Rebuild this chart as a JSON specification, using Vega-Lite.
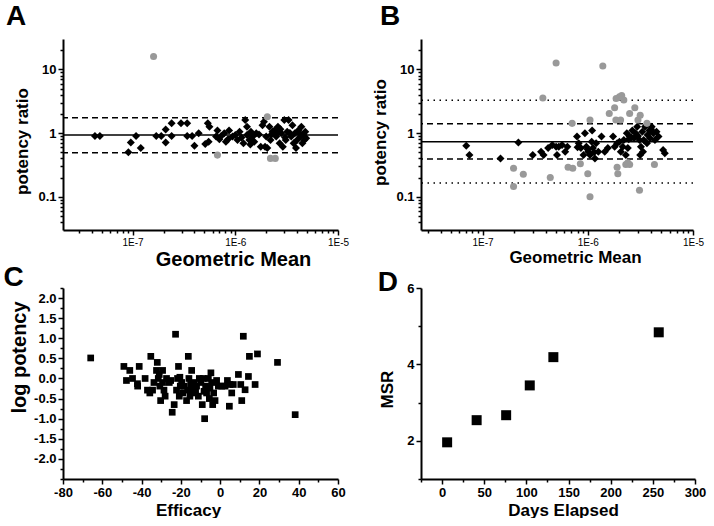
{
  "$schema": "https://vega.github.io/schema/vega-lite/v6.json",
  "padding": {"left": 3, "top": 3, "right": 5, "bottom": 0},
  "config": {
    "view": {"stroke": null},
    "font": "Liberation Sans",
    "axis": {
      "grid": false,
      "domainColor": "black",
      "domainWidth": 2,
      "tickColor": "black",
      "tickWidth": 1.5,
      "labelColor": "black",
      "labelFont": "Liberation Sans",
      "labelFontWeight": "bold",
      "labelFontSize": 13,
      "labelPadding": 2,
      "titleColor": "black",
      "titleFont": "Liberation Sans",
      "titleFontWeight": "bold",
      "titleFontSize": 17,
      "labelOverlap": false,
      "labelBound": false,
      "labelFlush": false
    },
    "title": {"anchor": "start", "frame": "bounds", "fontSize": 28, "font": "Liberation Sans", "fontWeight": "bold", "color": "black"}
  },
  "datasets": {
    "panelA": [
      {"gm": 4.3e-8, "ratio": 0.9, "status": "included"},
      {"gm": 4.8e-8, "ratio": 0.9, "status": "included"},
      {"gm": 9.1e-8, "ratio": 0.5, "status": "included"},
      {"gm": 9.6e-8, "ratio": 0.71, "status": "included"},
      {"gm": 1.08e-7, "ratio": 0.9, "status": "included"},
      {"gm": 1.2e-7, "ratio": 0.58, "status": "included"},
      {"gm": 1.7e-7, "ratio": 0.9, "status": "included"},
      {"gm": 1.9e-7, "ratio": 0.9, "status": "included"},
      {"gm": 2.1e-7, "ratio": 1.14, "status": "included"},
      {"gm": 2.1e-7, "ratio": 0.71, "status": "included"},
      {"gm": 2.4e-7, "ratio": 0.9, "status": "included"},
      {"gm": 2.4e-7, "ratio": 1.42, "status": "included"},
      {"gm": 2.96e-7, "ratio": 1.42, "status": "included"},
      {"gm": 3.4e-7, "ratio": 1.42, "status": "included"},
      {"gm": 3.4e-7, "ratio": 0.9, "status": "included"},
      {"gm": 3.8e-7, "ratio": 0.9, "status": "included"},
      {"gm": 4.0e-7, "ratio": 0.63, "status": "included"},
      {"gm": 4.4e-7, "ratio": 0.99, "status": "included"},
      {"gm": 5.1e-7, "ratio": 0.67, "status": "included"},
      {"gm": 5.4e-7, "ratio": 1.42, "status": "included"},
      {"gm": 5.5e-7, "ratio": 0.73, "status": "included"},
      {"gm": 5.6e-7, "ratio": 1.25, "status": "included"},
      {"gm": 6.5e-7, "ratio": 0.88, "status": "included"},
      {"gm": 6.7e-7, "ratio": 1.1, "status": "included"},
      {"gm": 7.0e-7, "ratio": 0.8, "status": "included"},
      {"gm": 7.3e-7, "ratio": 0.9, "status": "included"},
      {"gm": 7.8e-7, "ratio": 0.99, "status": "included"},
      {"gm": 8.1e-7, "ratio": 0.73, "status": "included"},
      {"gm": 8.5e-7, "ratio": 0.8, "status": "included"},
      {"gm": 8.7e-7, "ratio": 1.1, "status": "included"},
      {"gm": 9.4e-7, "ratio": 0.88, "status": "included"},
      {"gm": 1.0e-6, "ratio": 0.93, "status": "included"},
      {"gm": 1.05e-6, "ratio": 0.78, "status": "included"},
      {"gm": 1.1e-6, "ratio": 1.05, "status": "included"},
      {"gm": 1.15e-6, "ratio": 0.85, "status": "included"},
      {"gm": 1.2e-6, "ratio": 0.69, "status": "included"},
      {"gm": 1.25e-6, "ratio": 1.6, "status": "included"},
      {"gm": 1.3e-6, "ratio": 0.93, "status": "included"},
      {"gm": 1.3e-6, "ratio": 1.25, "status": "included"},
      {"gm": 1.37e-6, "ratio": 0.78, "status": "included"},
      {"gm": 1.4e-6, "ratio": 0.66, "status": "included"},
      {"gm": 1.42e-6, "ratio": 1.05, "status": "included"},
      {"gm": 1.48e-6, "ratio": 0.88, "status": "included"},
      {"gm": 1.53e-6, "ratio": 0.73, "status": "included"},
      {"gm": 1.6e-6, "ratio": 0.99, "status": "included"},
      {"gm": 1.7e-6, "ratio": 0.95, "status": "included"},
      {"gm": 1.77e-6, "ratio": 0.61, "status": "included"},
      {"gm": 1.84e-6, "ratio": 1.33, "status": "included"},
      {"gm": 1.9e-6, "ratio": 1.5, "status": "included"},
      {"gm": 1.95e-6, "ratio": 0.61, "status": "included"},
      {"gm": 2.0e-6, "ratio": 0.88, "status": "included"},
      {"gm": 2.05e-6, "ratio": 0.58, "status": "included"},
      {"gm": 2.15e-6, "ratio": 1.25, "status": "included"},
      {"gm": 2.2e-6, "ratio": 0.78, "status": "included"},
      {"gm": 2.25e-6, "ratio": 0.95, "status": "included"},
      {"gm": 2.3e-6, "ratio": 1.05, "status": "included"},
      {"gm": 2.4e-6, "ratio": 1.1, "status": "included"},
      {"gm": 2.5e-6, "ratio": 0.88, "status": "included"},
      {"gm": 2.55e-6, "ratio": 1.0, "status": "included"},
      {"gm": 2.6e-6, "ratio": 1.25, "status": "included"},
      {"gm": 2.7e-6, "ratio": 0.69, "status": "included"},
      {"gm": 2.75e-6, "ratio": 1.15, "status": "included"},
      {"gm": 2.8e-6, "ratio": 0.99, "status": "included"},
      {"gm": 2.9e-6, "ratio": 0.61, "status": "included"},
      {"gm": 3.0e-6, "ratio": 1.6, "status": "included"},
      {"gm": 3.05e-6, "ratio": 0.85, "status": "included"},
      {"gm": 3.1e-6, "ratio": 0.78, "status": "included"},
      {"gm": 3.2e-6, "ratio": 1.05, "status": "included"},
      {"gm": 3.3e-6, "ratio": 1.6, "status": "included"},
      {"gm": 3.4e-6, "ratio": 1.0, "status": "included"},
      {"gm": 3.5e-6, "ratio": 0.88, "status": "included"},
      {"gm": 3.6e-6, "ratio": 1.33, "status": "included"},
      {"gm": 3.7e-6, "ratio": 0.69, "status": "included"},
      {"gm": 3.8e-6, "ratio": 0.99, "status": "included"},
      {"gm": 3.9e-6, "ratio": 0.58, "status": "included"},
      {"gm": 4.0e-6, "ratio": 0.78, "status": "included"},
      {"gm": 4.1e-6, "ratio": 1.1, "status": "included"},
      {"gm": 4.2e-6, "ratio": 1.0, "status": "included"},
      {"gm": 4.3e-6, "ratio": 0.88, "status": "included"},
      {"gm": 4.4e-6, "ratio": 1.25, "status": "included"},
      {"gm": 4.5e-6, "ratio": 0.69, "status": "included"},
      {"gm": 4.6e-6, "ratio": 0.93, "status": "included"},
      {"gm": 4.7e-6, "ratio": 0.78, "status": "included"},
      {"gm": 4.8e-6, "ratio": 1.05, "status": "included"},
      {"gm": 4.9e-6, "ratio": 0.83, "status": "included"},
      {"gm": 1.6e-7, "ratio": 15.9, "status": "excluded"},
      {"gm": 6.7e-7, "ratio": 0.45, "status": "excluded"},
      {"gm": 2.05e-6, "ratio": 1.8, "status": "excluded"},
      {"gm": 2.2e-6, "ratio": 0.4, "status": "excluded"},
      {"gm": 2.45e-6, "ratio": 0.4, "status": "excluded"}
    ],
    "linesA": [
      {"kind": "mean", "ratio": 0.93},
      {"kind": "limit", "ratio": 1.74},
      {"kind": "limit", "ratio": 0.49}
    ],
    "panelB": [
      {"gm": 7.0e-8, "ratio": 0.63, "status": "included"},
      {"gm": 7.5e-8, "ratio": 0.45, "status": "included"},
      {"gm": 1.48e-7, "ratio": 0.4, "status": "included"},
      {"gm": 2.19e-7, "ratio": 0.71, "status": "included"},
      {"gm": 3.0e-7, "ratio": 0.45, "status": "included"},
      {"gm": 3.6e-7, "ratio": 0.51, "status": "included"},
      {"gm": 3.8e-7, "ratio": 0.45, "status": "included"},
      {"gm": 4.2e-7, "ratio": 0.58, "status": "included"},
      {"gm": 4.6e-7, "ratio": 0.65, "status": "included"},
      {"gm": 5.0e-7, "ratio": 0.61, "status": "included"},
      {"gm": 5.3e-7, "ratio": 0.61, "status": "included"},
      {"gm": 5.1e-7, "ratio": 0.45, "status": "included"},
      {"gm": 5.7e-7, "ratio": 0.65, "status": "included"},
      {"gm": 6.1e-7, "ratio": 0.51, "status": "included"},
      {"gm": 6.4e-7, "ratio": 0.61, "status": "included"},
      {"gm": 7.9e-7, "ratio": 0.88, "status": "included"},
      {"gm": 8.0e-7, "ratio": 0.6, "status": "included"},
      {"gm": 8.2e-7, "ratio": 0.69, "status": "included"},
      {"gm": 8.6e-7, "ratio": 0.58, "status": "included"},
      {"gm": 9.1e-7, "ratio": 0.45, "status": "included"},
      {"gm": 9.4e-7, "ratio": 0.99, "status": "included"},
      {"gm": 9.7e-7, "ratio": 0.61, "status": "included"},
      {"gm": 1.0e-6, "ratio": 0.55, "status": "included"},
      {"gm": 1.01e-6, "ratio": 0.51, "status": "included"},
      {"gm": 1.05e-6, "ratio": 0.45, "status": "included"},
      {"gm": 1.09e-6, "ratio": 0.73, "status": "included"},
      {"gm": 1.1e-6, "ratio": 1.1, "status": "included"},
      {"gm": 1.12e-6, "ratio": 0.58, "status": "included"},
      {"gm": 1.15e-6, "ratio": 0.5, "status": "included"},
      {"gm": 1.17e-6, "ratio": 0.4, "status": "included"},
      {"gm": 1.2e-6, "ratio": 0.69, "status": "included"},
      {"gm": 1.26e-6, "ratio": 0.51, "status": "included"},
      {"gm": 1.35e-6, "ratio": 0.88, "status": "included"},
      {"gm": 1.45e-6, "ratio": 0.51, "status": "included"},
      {"gm": 1.55e-6, "ratio": 0.58, "status": "included"},
      {"gm": 1.74e-6, "ratio": 0.88, "status": "included"},
      {"gm": 1.8e-6, "ratio": 0.61, "status": "included"},
      {"gm": 1.9e-6, "ratio": 0.69, "status": "included"},
      {"gm": 2.0e-6, "ratio": 0.73, "status": "included"},
      {"gm": 2.06e-6, "ratio": 0.51, "status": "included"},
      {"gm": 2.15e-6, "ratio": 0.61, "status": "included"},
      {"gm": 2.2e-6, "ratio": 0.78, "status": "included"},
      {"gm": 2.3e-6, "ratio": 0.45, "status": "included"},
      {"gm": 2.35e-6, "ratio": 0.99, "status": "included"},
      {"gm": 2.4e-6, "ratio": 0.58, "status": "included"},
      {"gm": 2.45e-6, "ratio": 0.8, "status": "included"},
      {"gm": 2.5e-6, "ratio": 0.88, "status": "included"},
      {"gm": 2.6e-6, "ratio": 0.85, "status": "included"},
      {"gm": 2.65e-6, "ratio": 1.1, "status": "included"},
      {"gm": 2.75e-6, "ratio": 0.83, "status": "included"},
      {"gm": 2.85e-6, "ratio": 0.99, "status": "included"},
      {"gm": 2.95e-6, "ratio": 1.25, "status": "included"},
      {"gm": 3.0e-6, "ratio": 0.9, "status": "included"},
      {"gm": 3.1e-6, "ratio": 0.78, "status": "included"},
      {"gm": 3.15e-6, "ratio": 0.45, "status": "included"},
      {"gm": 3.2e-6, "ratio": 0.61, "status": "included"},
      {"gm": 3.3e-6, "ratio": 1.05, "status": "included"},
      {"gm": 3.35e-6, "ratio": 0.51, "status": "included"},
      {"gm": 3.4e-6, "ratio": 0.78, "status": "included"},
      {"gm": 3.5e-6, "ratio": 1.25, "status": "included"},
      {"gm": 3.65e-6, "ratio": 0.69, "status": "included"},
      {"gm": 3.7e-6, "ratio": 0.93, "status": "included"},
      {"gm": 3.85e-6, "ratio": 1.1, "status": "included"},
      {"gm": 3.9e-6, "ratio": 0.83, "status": "included"},
      {"gm": 4.0e-6, "ratio": 1.15, "status": "included"},
      {"gm": 4.05e-6, "ratio": 1.25, "status": "included"},
      {"gm": 4.2e-6, "ratio": 0.99, "status": "included"},
      {"gm": 4.35e-6, "ratio": 0.78, "status": "included"},
      {"gm": 4.5e-6, "ratio": 1.05, "status": "included"},
      {"gm": 4.7e-6, "ratio": 0.88, "status": "included"},
      {"gm": 5.2e-6, "ratio": 0.54, "status": "included"},
      {"gm": 5.4e-6, "ratio": 0.48, "status": "included"},
      {"gm": 5.0e-7, "ratio": 12.6, "status": "excluded"},
      {"gm": 1.39e-6, "ratio": 11.3, "status": "excluded"},
      {"gm": 3.74e-7, "ratio": 3.55, "status": "excluded"},
      {"gm": 1.97e-7, "ratio": 0.28, "status": "excluded"},
      {"gm": 1.97e-7, "ratio": 0.145, "status": "excluded"},
      {"gm": 2.44e-7, "ratio": 0.226, "status": "excluded"},
      {"gm": 4.4e-7, "ratio": 0.2, "status": "excluded"},
      {"gm": 6.5e-7, "ratio": 0.29, "status": "excluded"},
      {"gm": 7.1e-7, "ratio": 1.42, "status": "excluded"},
      {"gm": 7.2e-7, "ratio": 0.28, "status": "excluded"},
      {"gm": 8.5e-7, "ratio": 0.33, "status": "excluded"},
      {"gm": 1.0e-6, "ratio": 0.23, "status": "excluded"},
      {"gm": 1.05e-6, "ratio": 1.6, "status": "excluded"},
      {"gm": 1.05e-6, "ratio": 0.1, "status": "excluded"},
      {"gm": 1.6e-6, "ratio": 2.03, "status": "excluded"},
      {"gm": 1.8e-6, "ratio": 2.5, "status": "excluded"},
      {"gm": 1.85e-6, "ratio": 1.6, "status": "excluded"},
      {"gm": 1.86e-6, "ratio": 3.48, "status": "excluded"},
      {"gm": 1.9e-6, "ratio": 0.29, "status": "excluded"},
      {"gm": 1.93e-6, "ratio": 0.23, "status": "excluded"},
      {"gm": 2.0e-6, "ratio": 3.7, "status": "excluded"},
      {"gm": 2.05e-6, "ratio": 1.6, "status": "excluded"},
      {"gm": 2.1e-6, "ratio": 3.9, "status": "excluded"},
      {"gm": 2.2e-6, "ratio": 3.3, "status": "excluded"},
      {"gm": 2.3e-6, "ratio": 0.32, "status": "excluded"},
      {"gm": 2.4e-6, "ratio": 0.34, "status": "excluded"},
      {"gm": 2.5e-6, "ratio": 0.32, "status": "excluded"},
      {"gm": 2.5e-6, "ratio": 2.03, "status": "excluded"},
      {"gm": 2.8e-6, "ratio": 2.5, "status": "excluded"},
      {"gm": 3.0e-6, "ratio": 1.6, "status": "excluded"},
      {"gm": 3.1e-6, "ratio": 0.126, "status": "excluded"},
      {"gm": 3.15e-6, "ratio": 1.9, "status": "excluded"},
      {"gm": 3.65e-6, "ratio": 1.42, "status": "excluded"},
      {"gm": 4.3e-6, "ratio": 0.32, "status": "excluded"}
    ],
    "linesB": [
      {"kind": "mean", "ratio": 0.73},
      {"kind": "limit", "ratio": 1.4},
      {"kind": "limit", "ratio": 0.39},
      {"kind": "outer", "ratio": 3.28},
      {"kind": "outer", "ratio": 0.164}
    ],
    "panelC": [
      {"efficacy": -65.9, "logpot": 0.51},
      {"efficacy": -49.0, "logpot": 0.3},
      {"efficacy": -46.0, "logpot": 0.2},
      {"efficacy": -47.7, "logpot": -0.05},
      {"efficacy": -44.6, "logpot": 0.0},
      {"efficacy": -42.1, "logpot": -0.13},
      {"efficacy": -41.2, "logpot": 0.3},
      {"efficacy": -42.0, "logpot": -0.19},
      {"efficacy": -38.2, "logpot": 0.0},
      {"efficacy": -37.0, "logpot": -0.29},
      {"efficacy": -35.8, "logpot": -0.36},
      {"efficacy": -35.3, "logpot": 0.55},
      {"efficacy": -34.4, "logpot": -0.29},
      {"efficacy": -33.7, "logpot": -0.1},
      {"efficacy": -32.4, "logpot": 0.2},
      {"efficacy": -32.0, "logpot": 0.4},
      {"efficacy": -31.5, "logpot": 0.0},
      {"efficacy": -31.0, "logpot": 0.1},
      {"efficacy": -30.7, "logpot": -0.19},
      {"efficacy": -30.3, "logpot": -0.55},
      {"efficacy": -29.3, "logpot": 0.2},
      {"efficacy": -29.3, "logpot": -0.1},
      {"efficacy": -28.6, "logpot": -0.29},
      {"efficacy": -28.0, "logpot": -0.44},
      {"efficacy": -27.3, "logpot": 0.0},
      {"efficacy": -25.9, "logpot": -0.1},
      {"efficacy": -25.2, "logpot": -0.05},
      {"efficacy": -24.4, "logpot": -0.84},
      {"efficacy": -23.4, "logpot": -0.65},
      {"efficacy": -22.7, "logpot": 1.1},
      {"efficacy": -22.2, "logpot": -0.29},
      {"efficacy": -21.7, "logpot": 0.0},
      {"efficacy": -21.2, "logpot": 0.3},
      {"efficacy": -20.8, "logpot": -0.44},
      {"efficacy": -20.5, "logpot": 0.03},
      {"efficacy": -20.3, "logpot": -0.19},
      {"efficacy": -19.6, "logpot": -0.1},
      {"efficacy": -19.1, "logpot": -0.36},
      {"efficacy": -18.3, "logpot": -0.19},
      {"efficacy": -17.1, "logpot": -0.55},
      {"efficacy": -16.6, "logpot": -0.29},
      {"efficacy": -16.2, "logpot": 0.55},
      {"efficacy": -15.9, "logpot": 0.0},
      {"efficacy": -15.4, "logpot": -0.44},
      {"efficacy": -15.0, "logpot": -0.13},
      {"efficacy": -14.5, "logpot": 0.2},
      {"efficacy": -14.0, "logpot": -0.24},
      {"efficacy": -13.7, "logpot": -0.36},
      {"efficacy": -13.2, "logpot": -0.1},
      {"efficacy": -12.5, "logpot": -0.29},
      {"efficacy": -12.0, "logpot": -0.19},
      {"efficacy": -11.1, "logpot": -0.44},
      {"efficacy": -10.6, "logpot": 0.0},
      {"efficacy": -9.8, "logpot": -0.1},
      {"efficacy": -9.1, "logpot": -0.65},
      {"efficacy": -8.6, "logpot": 0.0},
      {"efficacy": -8.2, "logpot": -0.32},
      {"efficacy": -7.9, "logpot": -1.0},
      {"efficacy": -7.4, "logpot": -0.19},
      {"efficacy": -6.9, "logpot": -0.36},
      {"efficacy": -6.0, "logpot": 0.0},
      {"efficacy": -5.5, "logpot": -0.5},
      {"efficacy": -5.2, "logpot": -0.24},
      {"efficacy": -4.7, "logpot": 0.14},
      {"efficacy": -4.3, "logpot": -0.1},
      {"efficacy": -3.8, "logpot": -0.65},
      {"efficacy": -3.3, "logpot": -0.36},
      {"efficacy": -2.6, "logpot": -0.55},
      {"efficacy": -1.8, "logpot": -0.05},
      {"efficacy": -0.9, "logpot": -0.19},
      {"efficacy": 0.8, "logpot": -0.19},
      {"efficacy": 2.5, "logpot": -0.19},
      {"efficacy": 3.7, "logpot": -0.05},
      {"efficacy": 4.7, "logpot": -0.69},
      {"efficacy": 5.0, "logpot": -0.15},
      {"efficacy": 5.9, "logpot": -0.36},
      {"efficacy": 6.7, "logpot": -0.15},
      {"efficacy": 9.3, "logpot": 0.1},
      {"efficacy": 10.5, "logpot": -0.15},
      {"efficacy": 11.0, "logpot": -0.55},
      {"efficacy": 11.8, "logpot": 1.05},
      {"efficacy": 12.7, "logpot": -0.28},
      {"efficacy": 14.4, "logpot": 0.05},
      {"efficacy": 14.9, "logpot": 0.55},
      {"efficacy": 17.8, "logpot": -0.15},
      {"efficacy": 19.0, "logpot": 0.61},
      {"efficacy": 29.2, "logpot": 0.4},
      {"efficacy": 38.2, "logpot": -0.9}
    ],
    "panelD": [
      {"days": 6, "msr": 1.96},
      {"days": 41, "msr": 2.54},
      {"days": 76, "msr": 2.67},
      {"days": 104, "msr": 3.45},
      {"days": 132, "msr": 4.19},
      {"days": 257, "msr": 4.84}
    ]
  },
  "columns": 2,
  "spacing": {"column": 22, "row": -5},
  "concat": [
    {
      "title": {"text": "A", "dx": -8, "offset": 8},
      "width": 275,
      "height": 191,
      "layer": [
        {
          "data": {"name": "linesA"},
          "transform": [{"filter": "datum.kind == 'mean'"}],
          "mark": {"type": "rule", "color": "black", "strokeWidth": 1.5},
          "encoding": {"y": {"field": "ratio", "type": "quantitative", "scale": {"type": "log", "domain": [0.03, 30], "nice": false}}}
        },
        {
          "data": {"name": "linesA"},
          "transform": [{"filter": "datum.kind == 'limit'"}],
          "mark": {"type": "rule", "color": "black", "strokeWidth": 1.5, "strokeDash": [6, 4]},
          "encoding": {"y": {"field": "ratio", "type": "quantitative"}}
        },
        {
          "data": {"name": "panelA"},
          "mark": {"type": "point", "filled": true, "opacity": 1},
          "encoding": {
            "x": {
              "field": "gm", "type": "quantitative",
              "scale": {"type": "log", "domain": [2.1e-8, 1e-5], "nice": false},
              "axis": {
                "title": "Geometric Mean", "titleFontSize": 20, "titlePadding": 2, "titleX": 170,
                "labelFontSize": 10, "labelFontWeight": "normal",
                "values": [3e-8, 4e-8, 5e-8, 6e-8, 7e-8, 8e-8, 9e-8, 1e-7, 2e-7, 3e-7, 4e-7, 5e-7, 6e-7, 7e-7, 8e-7, 9e-7, 1e-6, 2e-6, 3e-6, 4e-6, 5e-6, 6e-6, 7e-6, 8e-6, 9e-6, 1e-5],
                "labelExpr": "abs(log(datum.value)/LN10 - round(log(datum.value)/LN10)) < 0.001 ? '1E' + round(log(datum.value)/LN10) : ''",
                "tickSize": {"condition": {"test": "abs(log(datum.value)/LN10 - round(log(datum.value)/LN10)) < 0.001", "value": 5}, "value": 3}
              }
            },
            "y": {
              "field": "ratio", "type": "quantitative",
              "axis": {
                "title": "potency ratio", "titlePadding": 6, "titleY": 102,
                "values": [0.04, 0.05, 0.06, 0.07, 0.08, 0.09, 0.1, 0.2, 0.3, 0.4, 0.5, 0.6, 0.7, 0.8, 0.9, 1, 2, 3, 4, 5, 6, 7, 8, 9, 10, 20],
                "labelExpr": "abs(log(datum.value)/LN10 - round(log(datum.value)/LN10)) < 0.001 ? '' + datum.value : ''",
                "tickSize": {"condition": {"test": "abs(log(datum.value)/LN10 - round(log(datum.value)/LN10)) < 0.001", "value": 5}, "value": 3}
              }
            },
            "shape": {"field": "status", "type": "nominal", "scale": {"domain": ["included", "excluded"], "range": ["diamond", "circle"]}, "legend": null},
            "color": {"field": "status", "type": "nominal", "scale": {"domain": ["included", "excluded"], "range": ["#000000", "#999999"]}, "legend": null},
            "size": {"field": "status", "type": "nominal", "scale": {"domain": ["included", "excluded"], "range": [64, 50]}, "legend": null}
          }
        }
      ]
    },
    {
      "title": {"text": "B", "dx": 8, "offset": 8},
      "width": 272,
      "height": 191,
      "layer": [
        {
          "data": {"name": "linesB"},
          "transform": [{"filter": "datum.kind == 'mean'"}],
          "mark": {"type": "rule", "color": "black", "strokeWidth": 1.5},
          "encoding": {"y": {"field": "ratio", "type": "quantitative", "scale": {"type": "log", "domain": [0.03, 30], "nice": false}}}
        },
        {
          "data": {"name": "linesB"},
          "transform": [{"filter": "datum.kind == 'limit'"}],
          "mark": {"type": "rule", "color": "black", "strokeWidth": 1.5, "strokeDash": [6, 4]},
          "encoding": {"y": {"field": "ratio", "type": "quantitative"}}
        },
        {
          "data": {"name": "linesB"},
          "transform": [{"filter": "datum.kind == 'outer'"}],
          "mark": {"type": "rule", "color": "black", "strokeWidth": 1.5, "strokeDash": [1.5, 4.5]},
          "encoding": {"y": {"field": "ratio", "type": "quantitative"}}
        },
        {
          "data": {"name": "panelB"},
          "mark": {"type": "point", "filled": true, "opacity": 1},
          "encoding": {
            "x": {
              "field": "gm", "type": "quantitative",
              "scale": {"type": "log", "domain": [2.6e-8, 1e-5], "nice": false},
              "axis": {
                "title": "Geometric Mean", "titleFontSize": 17, "titlePadding": 2, "titleX": 154,
                "labelFontSize": 10, "labelFontWeight": "normal",
                "values": [3e-8, 4e-8, 5e-8, 6e-8, 7e-8, 8e-8, 9e-8, 1e-7, 2e-7, 3e-7, 4e-7, 5e-7, 6e-7, 7e-7, 8e-7, 9e-7, 1e-6, 2e-6, 3e-6, 4e-6, 5e-6, 6e-6, 7e-6, 8e-6, 9e-6, 1e-5],
                "labelExpr": "abs(log(datum.value)/LN10 - round(log(datum.value)/LN10)) < 0.001 ? '1E' + round(log(datum.value)/LN10) : ''",
                "tickSize": {"condition": {"test": "abs(log(datum.value)/LN10 - round(log(datum.value)/LN10)) < 0.001", "value": 5}, "value": 3}
              }
            },
            "y": {
              "field": "ratio", "type": "quantitative",
              "axis": {
                "title": "potency ratio", "titlePadding": 6, "titleY": 93,
                "values": [0.04, 0.05, 0.06, 0.07, 0.08, 0.09, 0.1, 0.2, 0.3, 0.4, 0.5, 0.6, 0.7, 0.8, 0.9, 1, 2, 3, 4, 5, 6, 7, 8, 9, 10, 20],
                "labelExpr": "abs(log(datum.value)/LN10 - round(log(datum.value)/LN10)) < 0.001 ? '' + datum.value : ''",
                "tickSize": {"condition": {"test": "abs(log(datum.value)/LN10 - round(log(datum.value)/LN10)) < 0.001", "value": 5}, "value": 3}
              }
            },
            "shape": {"field": "status", "type": "nominal", "scale": {"domain": ["included", "excluded"], "range": ["diamond", "circle"]}, "legend": null},
            "color": {"field": "status", "type": "nominal", "scale": {"domain": ["included", "excluded"], "range": ["#000000", "#999999"]}, "legend": null},
            "size": {"field": "status", "type": "nominal", "scale": {"domain": ["included", "excluded"], "range": [64, 50]}, "legend": null}
          }
        }
      ]
    },
    {
      "title": {"text": "C", "dx": -6, "offset": -10},
      "width": 275,
      "height": 191,
      "data": {"name": "panelC"},
      "mark": {"type": "square", "color": "black", "opacity": 1, "size": 45},
      "encoding": {
        "x": {
          "field": "efficacy", "type": "quantitative",
          "scale": {"domain": [-80, 60], "nice": false, "zero": false},
          "axis": {
            "title": "Efficacy", "titlePadding": 3, "titleX": 125,
            "values": [-80, -70, -60, -50, -40, -30, -20, -10, 0, 10, 20, 30, 40, 50, 60],
            "labelExpr": "datum.value % 20 == 0 ? '' + datum.value : ''",
            "tickSize": {"condition": {"test": "datum.value % 20 == 0", "value": 5}, "value": 3}
          }
        },
        "y": {
          "field": "logpot", "type": "quantitative",
          "scale": {"domain": [-2.5, 2.25], "nice": false, "zero": false},
          "axis": {
            "title": "log potency", "titlePadding": 4, "titleFontSize": 20, "titleY": 69,
            "values": [-2.5, -2.25, -2, -1.75, -1.5, -1.25, -1, -0.75, -0.5, -0.25, 0, 0.25, 0.5, 0.75, 1, 1.25, 1.5, 1.75, 2, 2.25],
            "labelExpr": "abs(datum.value) <= 2 && datum.value * 2 == round(datum.value * 2) ? replace(format(datum.value, '.1f'), '\u2212', '-') : ''",
            "tickSize": {"condition": {"test": "abs(datum.value) <= 2 && datum.value * 2 == round(datum.value * 2)", "value": 5}, "value": 3}
          }
        }
      }
    },
    {
      "title": {"text": "D", "dx": -1, "offset": -15},
      "width": 274,
      "height": 191,
      "data": {"name": "panelD"},
      "mark": {"type": "square", "color": "black", "opacity": 1, "size": 100},
      "encoding": {
        "x": {
          "field": "days", "type": "quantitative",
          "scale": {"domain": [-25, 300], "nice": false, "zero": false},
          "axis": {
            "title": "Days Elapsed", "titlePadding": 3, "titleX": 142,
            "values": [-25, 0, 25, 50, 75, 100, 125, 150, 175, 200, 225, 250, 275, 300],
            "labelExpr": "datum.value >= 0 && datum.value % 50 == 0 ? '' + datum.value : ''",
            "tickSize": {"condition": {"test": "datum.value >= 0 && datum.value % 50 == 0", "value": 5}, "value": 3}
          }
        },
        "y": {
          "field": "msr", "type": "quantitative",
          "scale": {"domain": [1, 6], "nice": false, "zero": false},
          "axis": {
            "title": "MSR", "titlePadding": 10, "titleY": 101,
            "values": [1, 2, 3, 4, 5, 6],
            "labelExpr": "datum.value % 2 == 0 ? '' + datum.value : ''",
            "tickSize": {"condition": {"test": "datum.value % 2 == 0", "value": 5}, "value": 3}
          }
        }
      }
    }
  ]
}
